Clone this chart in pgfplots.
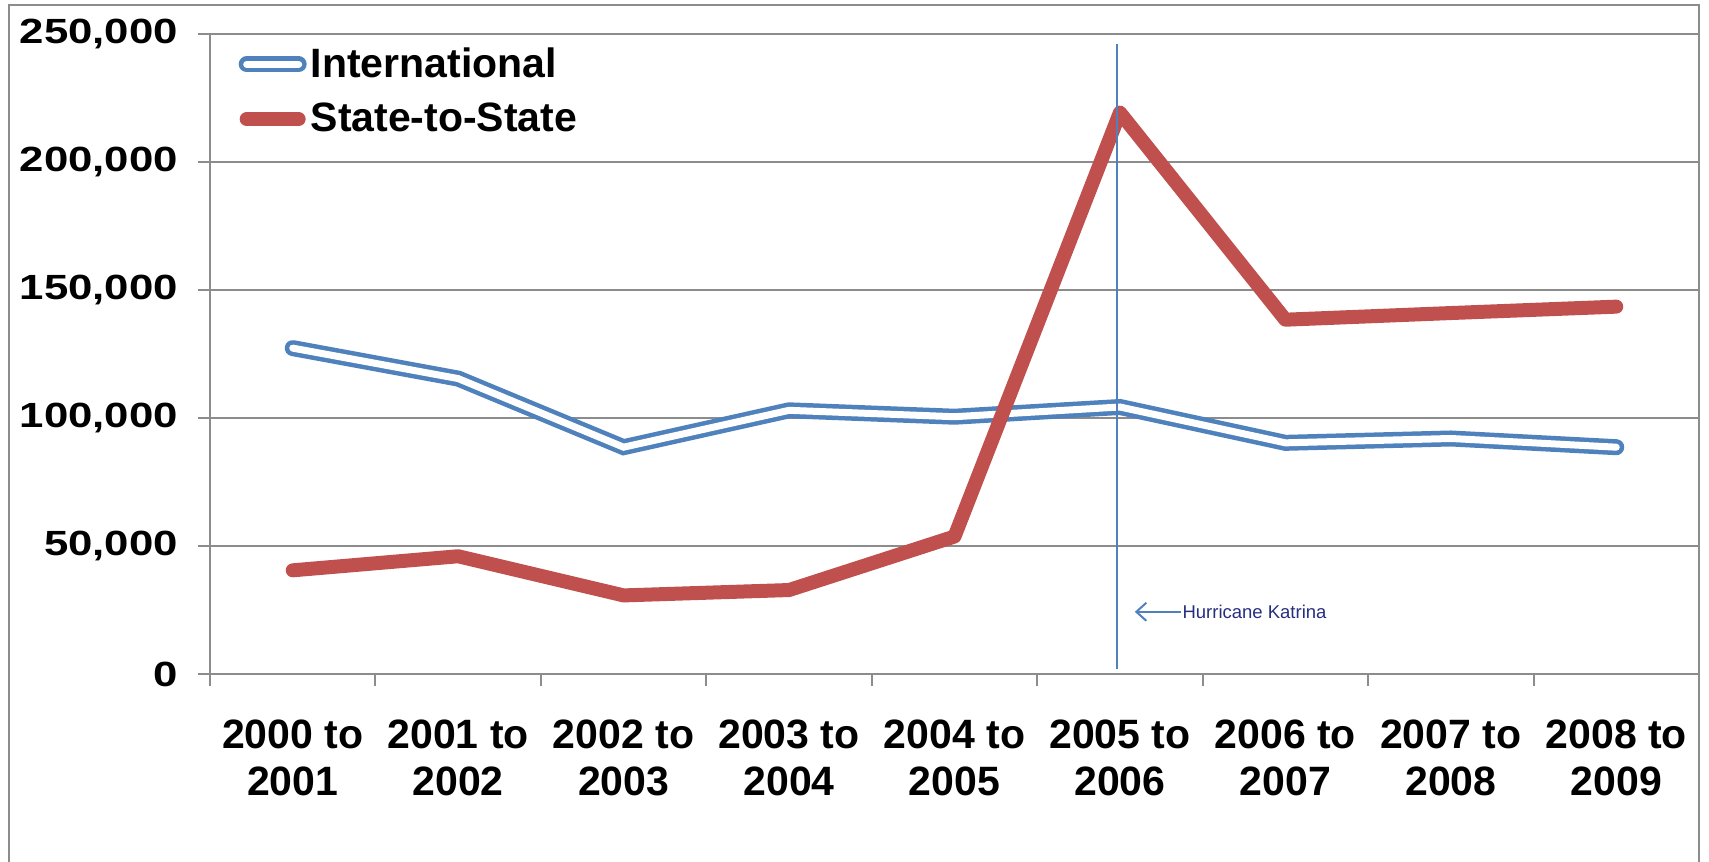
\documentclass[border=0pt]{standalone}
\usepackage{pgfplots}
\pgfplotsset{compat=1.18}
\usetikzlibrary{arrows.meta}
\usepackage{fontspec}
\setmainfont{Liberation Sans}
\definecolor{exblue}{HTML}{4F81BD}
\definecolor{exred}{HTML}{C0504D}
\definecolor{gridgray}{HTML}{8C8C8C}
\definecolor{navy}{HTML}{262E80}
\newcommand\yl[1]{\scalebox{1.25}[1]{#1}}
\pgfplotsset{legend image code/.code={\draw[#1] (0pt,0pt) -- (26pt,0pt);}}
\begin{document}
\begin{tikzpicture}
\begin{axis}[
  at={(105pt,-337pt)}, anchor=south west,
  scale only axis, width=744.5pt, height=320pt,
  xmin=-0.5, xmax=8.5, ymin=0, ymax=250000,
  axis x line*=bottom, axis y line*=left,
  axis line style={gridgray, line width=1pt},
  tick align=outside,
  xtick={0,...,8},
  xticklabels={{2000 to\\2001},{2001 to\\2002},{2002 to\\2003},{2003 to\\2004},{2004 to\\2005},{2005 to\\2006},{2006 to\\2007},{2007 to\\2008},{2008 to\\2009}},
  major x tick style={draw=none},
  minor xtick={-0.5,0.5,...,8.5},
  minor x tick style={gridgray, line width=1pt},
  minor tick length=6pt,
  major tick length=6pt,
  scaled y ticks=false,
  ytick={0,50000,100000,150000,200000,250000},
  yticklabels={\yl{0},\yl{50,000},\yl{100,000},\yl{150,000},\yl{200,000},\yl{250,000}},
  ytick style={gridgray, line width=1pt},
  ymajorgrids, grid style={gridgray, line width=1pt},
  yticklabel style={font=\fontsize{17.5}{20}\selectfont\bfseries, anchor=east, xshift=-6.5pt},
  xticklabel style={align=center, font=\fontsize{20.5}{23.5}\selectfont\bfseries, anchor=north, yshift=-13.5pt},
  legend style={draw=none, fill=none, at={(0.019,0.985)}, anchor=north west,
    font=\fontsize{20.5}{24}\selectfont\bfseries, row sep=7.3pt, inner sep=0pt,
    cells={anchor=west}},
  legend cell align=left,
  clip=false,
]
\addplot[exblue, line width=2.25pt, double=white, double distance=3.5pt, line cap=round]
  coordinates {(0,127300) (1,115400) (2,88600) (3,103000) (4,100500) (5,104300) (6,90300) (7,92000) (8,88600)};
\addlegendentry{International}
\addplot[exred, line width=7pt, line cap=round, line join=round]
  coordinates {(0,40500) (1,46000) (2,30700) (3,32800) (4,53700) (5,219300) (6,138400) (7,141000) (8,143500)};
\addlegendentry{State-to-State}
\addplot[exblue, line width=1pt, forget plot] coordinates {(4.98,2000) (4.98,246000)};
\draw[exblue, line width=1pt, -{Straight Barb[length=5pt,width=9pt]}] (axis cs:5.37,24300) -- (axis cs:5.09,24300);
\node[navy, anchor=west, inner sep=0.5pt, font=\fontsize{9.25}{11}\selectfont] at (axis cs:5.37,24300) {Hurricane Katrina};
\end{axis}
\draw[gridgray, line width=1pt] (4.5pt,-2.5pt) rectangle (849.5pt,-440pt);
\pgfresetboundingbox
\path (0pt,0pt) rectangle (854.5pt,-431pt);
\end{tikzpicture}
\end{document}
